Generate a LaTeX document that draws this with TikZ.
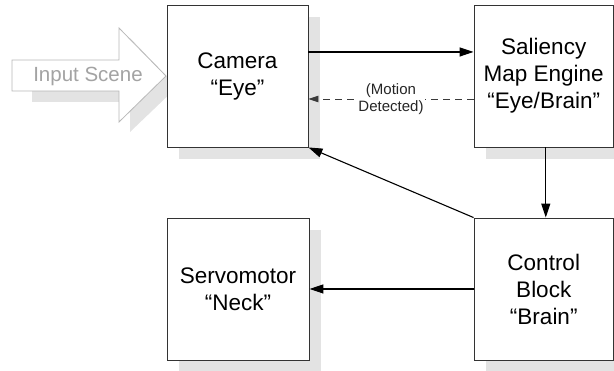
\documentclass[tikz,border=0pt]{standalone}
\usepackage{fontspec}
\setmainfont{Liberation Sans}
\usetikzlibrary{arrows.meta,shadows}

\definecolor{boxline}{HTML}{333333}
\definecolor{shadowgray}{HTML}{E3E3E3}
\definecolor{sceneline}{HTML}{B8B8B8}
\definecolor{scenetext}{HTML}{A3A3A3}
\definecolor{dashline}{HTML}{3A3A3A}

\tikzset{
  block/.style={draw=boxline, line width=0.9pt, fill=white, inner sep=0pt,
    minimum width=141pt, minimum height=142pt, align=center,
    font=\fontsize{22.5}{27}\selectfont,
    drop shadow={shadow xshift=12pt, shadow yshift=-12pt, fill=shadowgray, opacity=1}},
  flow/.style={draw=black, line width=1.1pt, -{Triangle[length=14pt,width=9pt]}},
  flowdashed/.style={draw=dashline, line width=0.9pt,
    -{Triangle[length=10pt,width=6.5pt]}, dash pattern=on 7pt off 5pt},
  note/.style={fill=white, inner sep=1pt, align=center, text=black!85,
    font=\fontsize{15}{17.5}\selectfont}
}

\begin{document}
\begin{tikzpicture}[x=1pt, y=-1pt]
  \useasboundingbox (0,0) rectangle (614,371);

  % incoming scene arrow with its shadow
  \fill[shadowgray] (32,71) -- (130,71) -- (130,38) -- (177,87) -- (130,132)
    -- (130,102) -- (32,102) -- cycle;
  \draw[sceneline, fill=white, line width=0.8pt]
    (12,60) -- (119,60) -- (119,28) -- (166,76) -- (119,122) -- (119,91)
    -- (12,91) -- cycle;
  \node[anchor=base, text=scenetext, font=\fontsize{20.5}{24}\selectfont,
    inner sep=0pt] (scene) at (88,81.7) {Input Scene};

  % processing blocks
  \node[block] (cam) at (237.5,76) {Camera\\“Eye”};
  \node[block, minimum width=139.5pt] (sal) at (543.75,76)
    {Saliency\\Map Engine\\“Eye/Brain”};
  \node[block, minimum width=139.5pt] (ctl) at (543.75,289)
    {Control\\Block\\“Brain”};
  \node[block, minimum width=142pt] (servo) at (238,289)
    {Servomotor\\“Neck”};

  % connections
  \draw[flow] ([yshift=24pt]cam.east) -- ([yshift=24pt]sal.west);
  \draw[flowdashed] ([yshift=-23pt]sal.west) -- ([yshift=-23pt]cam.east)
    node[note, midway] (motion) {(Motion\\Detected)};
  \draw[flow] ([xshift=2pt]sal.south) -- ([xshift=2pt]ctl.north);
  \draw[flow] (ctl.north west) -- (cam.south east);
  \draw[flow] (ctl.west) -- (servo.east);
\end{tikzpicture}
\end{document}
